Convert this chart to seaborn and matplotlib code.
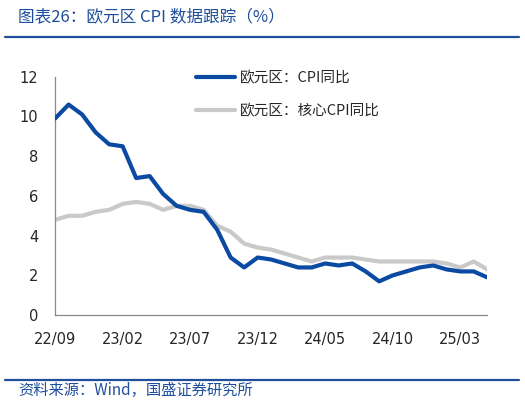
import numpy as np
import pandas as pd
import seaborn as sns
from matplotlib import pyplot as plt
from matplotlib.lines import Line2D

months = pd.period_range('2022-09', '2025-05', freq='M')
cpi = [9.9, 10.6, 10.1, 9.2, 8.6, 8.5, 6.9, 7.0, 6.1, 5.5, 5.3, 5.2, 4.3, 2.9, 2.4,
       2.9, 2.8, 2.6, 2.4, 2.4, 2.6, 2.5, 2.6, 2.2, 1.7, 2.0, 2.2, 2.4, 2.5, 2.3,
       2.2, 2.2, 1.9]
core = [4.8, 5.0, 5.0, 5.2, 5.3, 5.6, 5.7, 5.6, 5.3, 5.5, 5.5, 5.3, 4.5, 4.2, 3.6,
        3.4, 3.3, 3.1, 2.9, 2.7, 2.9, 2.9, 2.9, 2.8, 2.7, 2.7, 2.7, 2.7, 2.7, 2.6,
        2.4, 2.7, 2.3]
tick_labels = ['22/09', '23/02', '23/07', '23/12', '24/05', '24/10', '25/03']
y_ticks = [0, 2, 4, 6, 8, 10, 12]

BLUE = '#0B4AA2'
GREY = '#C9C9C9'
TXT_BLUE = '#1F4F9C'

sns.set_style('white')
plt.rcParams['font.family'] = ['Noto Sans CJK SC', 'DejaVu Sans']

df = pd.DataFrame({'idx': np.arange(len(months)), 'cpi': cpi, 'core': core})

fig = plt.figure(figsize=(5.25, 4.04), dpi=100)
ax = fig.add_axes([0.105, 0.22, 0.823, 0.59])

sns.lineplot(data=df, x='idx', y='core', ax=ax, color=GREY, lw=3, zorder=2)
sns.lineplot(data=df, x='idx', y='cpi', ax=ax, color=BLUE, lw=3, zorder=3)

ax.set_xlim(0, len(months) - 1)
ax.set_ylim(0, 12)
ax.set_yticks(y_ticks)
ax.set_yticklabels([str(v) for v in y_ticks], fontsize=10.5, family=['DejaVu Sans'])
ax.set_xticks(np.arange(0, len(months), 5))
ax.set_xticklabels(tick_labels, fontsize=10.5, family=['DejaVu Sans'])
ax.tick_params(axis='both', direction='in', length=4, color='#888888', width=0.8)
ax.tick_params(axis='x', pad=12)
ax.tick_params(axis='y', pad=12)
ax.set_xlabel('')
ax.set_ylabel('')
for s in ['top', 'right']:
    ax.spines[s].set_visible(False)
for s in ['left', 'bottom']:
    ax.spines[s].set_color('#888888')
    ax.spines[s].set_linewidth(0.9)

handles = [Line2D([0], [0], color=BLUE, lw=3), Line2D([0], [0], color=GREY, lw=3)]
ax.legend(handles, ['欧元区：CPI同比', '欧元区：核心CPI同比'], loc='upper left',
          bbox_to_anchor=(0.295, 1.08), frameon=False, fontsize=10.5,
          handlelength=2.7, handletextpad=0.3, labelspacing=1.35)

fig.text(0.035, 0.955, '图表26：欧元区 CPI 数据跟踪（%）', fontsize=12, color=TXT_BLUE,
         style='italic', va='center')
fig.add_artist(Line2D([0.01, 0.988], [0.908, 0.908], color=TXT_BLUE, lw=1.6))
fig.add_artist(Line2D([0.01, 0.988], [0.06, 0.06], color=TXT_BLUE, lw=1.6))
fig.text(0.035, 0.033, '资料来源：Wind，国盛证券研究所', fontsize=11, color=TXT_BLUE,
         style='italic', va='center')

fig.savefig('out.png', dpi=100)
